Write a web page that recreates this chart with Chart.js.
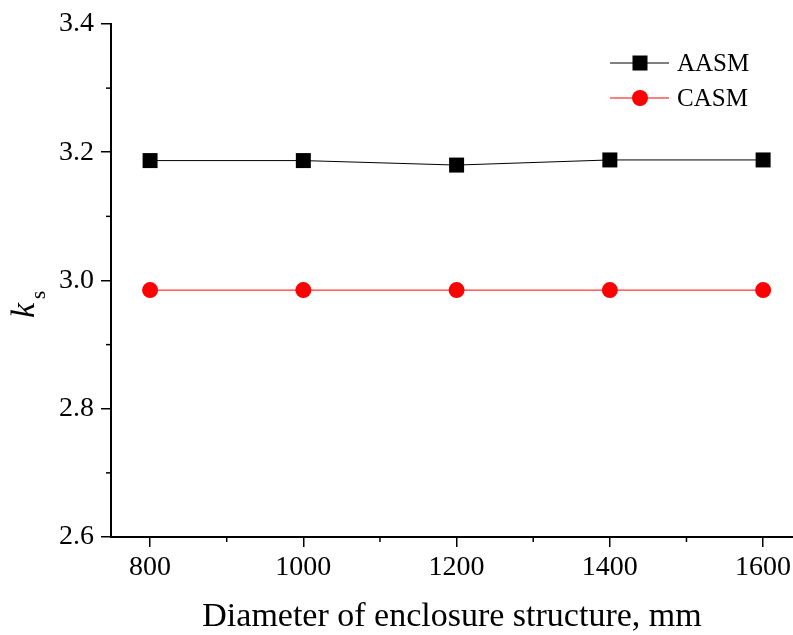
<!DOCTYPE html>
<html>
<head>
<meta charset="utf-8">
<script src="https://cdn.jsdelivr.net/npm/chart.js"></script>
<style>
html,body{margin:0;padding:0;background:#fff;}
#wrap{width:793px;height:635px;position:relative;}
</style>
</head>
<body>
<div id="wrap"><canvas id="c" width="793" height="635"></canvas></div>
<script>
const categories = [800, 1000, 1200, 1400, 1600];
const aasm = [3.187, 3.187, 3.180, 3.188, 3.188];
const casm = [2.985, 2.985, 2.985, 2.985, 2.985];
const xTickValues = [800, 900, 1000, 1100, 1200, 1300, 1400, 1500, 1600];
const xMajorTicks = [800, 1000, 1200, 1400, 1600];
const yTickValues = [2.6, 2.7, 2.8, 2.9, 3.0, 3.1, 3.2, 3.3, 3.4];
const yMajorLabels = ['2.6', '2.8', '3.0', '3.2', '3.4'];
const seriesNames = ['AASM', 'CASM'];
const xTitle = 'Diameter of enclosure structure, mm';

const SERIF = '"Liberation Serif", "Times New Roman", serif';

function isYMajor(v){ return yMajorLabels.includes(Number(v).toFixed(1)); }
function isXMajor(v){ return xMajorTicks.includes(Math.round(v)); }

const extras = {
  id: 'extras',
  afterDraw(chart){
    const ctx = chart.ctx;
    const xs = chart.scales.x, ys = chart.scales.y;
    ctx.save();
    // minor ticks
    ctx.strokeStyle = '#000';
    ctx.lineWidth = 1.5;
    xTickValues.filter(v => !isXMajor(v)).forEach(v => {
      const px = xs.getPixelForValue(v);
      ctx.beginPath(); ctx.moveTo(px, ys.bottom); ctx.lineTo(px, ys.bottom + 5); ctx.stroke();
    });
    yTickValues.filter(v => !isYMajor(v)).forEach(v => {
      const py = ys.getPixelForValue(v);
      ctx.beginPath(); ctx.moveTo(xs.left, py); ctx.lineTo(xs.left - 5, py); ctx.stroke();
    });
    // y title: k with subscript s
    ctx.fillStyle = '#000';
    ctx.translate(34, 318);
    ctx.rotate(-Math.PI / 2);
    ctx.textBaseline = 'alphabetic';
    ctx.textAlign = 'left';
    ctx.font = 'italic 34px ' + SERIF;
    ctx.fillText('k', 0, 0);
    const kw = ctx.measureText('k').width;
    ctx.font = '21px ' + SERIF;
    ctx.fillText('s', kw + 4, 11);
    ctx.restore();

    // legend
    ctx.save();
    const items = [
      {name: seriesNames[0], color: '#000', style: 'rect', y: 63},
      {name: seriesNames[1], color: '#ff0000', style: 'circle', y: 98}
    ];
    items.forEach(it => {
      ctx.strokeStyle = it.color;
      ctx.lineWidth = 1;
      ctx.beginPath(); ctx.moveTo(610, it.y); ctx.lineTo(669, it.y); ctx.stroke();
      ctx.fillStyle = it.color;
      if (it.style === 'rect') {
        ctx.fillRect(640 - 7.5, it.y - 7.5, 15, 15);
      } else {
        ctx.beginPath(); ctx.arc(640, it.y, 8, 0, Math.PI * 2); ctx.fill();
      }
      ctx.fillStyle = '#000';
      ctx.font = '25px ' + SERIF;
      ctx.textBaseline = 'middle';
      ctx.textAlign = 'left';
      ctx.fillText(it.name, 677, it.y + 1);
    });
    ctx.restore();
  }
};

new Chart(document.getElementById('c'), {
  type: 'line',
  data: {
    datasets: [
      {
        label: seriesNames[0],
        data: categories.map((c, i) => ({x: c, y: aasm[i]})),
        borderColor: '#000',
        backgroundColor: '#000',
        borderWidth: 1,
        pointStyle: 'rect',
        pointRadius: 10.6,
        pointBorderWidth: 0,
        pointBackgroundColor: '#000',
        tension: 0
      },
      {
        label: seriesNames[1],
        data: categories.map((c, i) => ({x: c, y: casm[i]})),
        borderColor: '#ff0000',
        backgroundColor: '#ff0000',
        borderWidth: 1,
        pointStyle: 'circle',
        pointRadius: 8,
        pointBorderWidth: 0,
        pointBackgroundColor: '#ff0000',
        tension: 0
      }
    ]
  },
  options: {
    responsive: false,
    animation: false,
    devicePixelRatio: 1,
    layout: {autoPadding: false, padding: {left: 0, right: 0, top: 24, bottom: 0}},
    plugins: {legend: {display: false}, tooltip: {enabled: false}},
    scales: {
      x: {
        type: 'linear',
        min: 749,
        max: 1639,
        afterBuildTicks: s => { s.ticks = xTickValues.map(v => ({value: v})); },
        afterFit: s => { s.height = 98; s.paddingLeft = 0; s.paddingRight = 0; },
        ticks: {
          autoSkip: false, maxRotation: 0, minRotation: 0,
          color: '#000', padding: 4,
          font: {family: SERIF, size: 28},
          callback: v => isXMajor(v) ? String(v) : ''
        },
        grid: {
          drawOnChartArea: false, drawTicks: true, tickLength: 10, lineWidth: 1.5,
          color: c => (c.tick && isXMajor(c.tick.value)) ? '#000' : 'rgba(0,0,0,0)'
        },
        border: {display: true, color: '#000', width: 2},
        title: {
          display: true, text: xTitle, color: '#000',
          font: {family: SERIF, size: 34, lineHeight: 1},
          padding: {top: 0, bottom: 1}
        }
      },
      y: {
        type: 'linear',
        min: 2.6,
        max: 3.4,
        afterBuildTicks: s => { s.ticks = yTickValues.map(v => ({value: v})); },
        afterFit: s => { s.width = 111; s.paddingTop = 0; s.paddingBottom = 0; },
        ticks: {
          autoSkip: false, color: '#000', padding: 7,
          font: {family: SERIF, size: 28},
          callback: v => isYMajor(v) ? Number(v).toFixed(1) : ''
        },
        grid: {
          drawOnChartArea: false, drawTicks: true, tickLength: 10, lineWidth: 1.5,
          color: c => (c.tick && isYMajor(c.tick.value)) ? '#000' : 'rgba(0,0,0,0)'
        },
        border: {display: true, color: '#000', width: 2}
      }
    }
  },
  plugins: [extras]
});
</script>
</body>
</html>
